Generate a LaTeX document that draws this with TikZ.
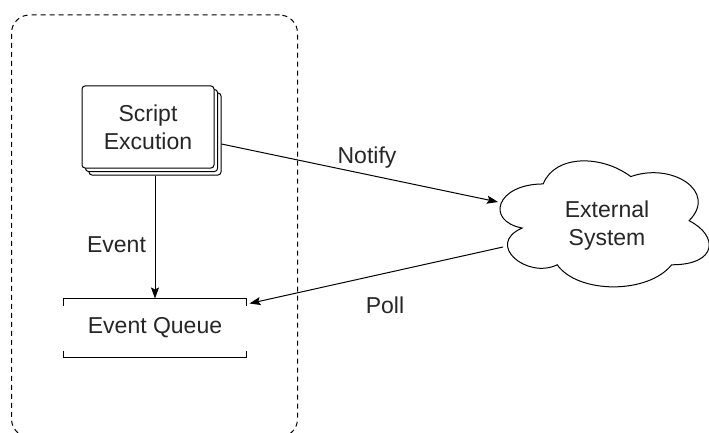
\documentclass[tikz,border=0pt]{standalone}
\usepackage{fontspec}
\setmainfont{Liberation Sans}
\usetikzlibrary{arrows.meta}

\begin{document}
\begin{tikzpicture}[x=1pt,y=-1pt, line width=1pt,
  lbl/.style={font=\fontsize{23}{27.6}\selectfont, text=black!85},
  pagebox/.style={draw, fill=white, rounded corners=3pt, minimum width=132pt, minimum height=82pt, inner sep=0pt},
  flow/.style={-{Stealth[length=11pt,width=8pt,inset=2pt]}}]
\useasboundingbox (0,0) rectangle (709,433);
\clip (0,0) rectangle (709,433);
% dashed group
\node[draw, dash pattern=on 5pt off 4pt, rounded corners=18pt, minimum width=286pt, minimum height=422pt] (group) at (154.5,226) {};
% script stack
\node[pagebox] (scriptback) at (155,134) {};
\node[pagebox] (scriptmid) at (151.5,130.5) {};
\node[pagebox, lbl, align=center] (script) at (148,127) {Script\\Excution};
% queue
\node[lbl, minimum width=182pt, minimum height=58pt, inner sep=0pt] (queue) at (155,328) {Event Queue};
\draw ([yshift=-7pt]queue.north west) -- (queue.north west) -- (queue.north east) -- ([yshift=-7pt]queue.north east);
\draw ([yshift=7pt]queue.south west) -- (queue.south west) -- (queue.south east) -- ([yshift=7pt]queue.south east);
% cloud
\begin{scope}[shift={(484.8,147.2)}, x=233.5pt, y=-147pt]
\draw[fill=white] (0.25,0.25) .. controls (0.05,0.25) and (0,0.5) .. (0.16,0.55)
  .. controls (0,0.66) and (0.18,0.9) .. (0.31,0.8)
  .. controls (0.4,1) and (0.7,1) .. (0.8,0.8)
  .. controls (1,0.8) and (1,0.6) .. (0.875,0.5)
  .. controls (1,0.3) and (0.8,0.1) .. (0.625,0.2)
  .. controls (0.5,0.05) and (0.3,0.05) .. (0.25,0.25) -- cycle;
\end{scope}
\node[lbl, align=center] (ext) at (607,225.5) {External\\System};
\coordinate (extin) at (498,202);
\coordinate (extout) at (503,247);
% connectors
\draw[flow] (scriptback.south -| queue.north) -- (queue.north);
\node[lbl, anchor=base] (eventlbl) at (116.5,252) {Event};
\draw[flow] ([yshift=-10pt]scriptback.east) -- (extin);
\node[lbl, anchor=base] (notifylbl) at (367,163) {Notify};
\draw[flow] (extout) -- ([shift={(3pt,-5pt)}]queue.north east);
\node[lbl, anchor=base] (polllbl) at (385,313) {Poll};
\end{tikzpicture}
\end{document}
